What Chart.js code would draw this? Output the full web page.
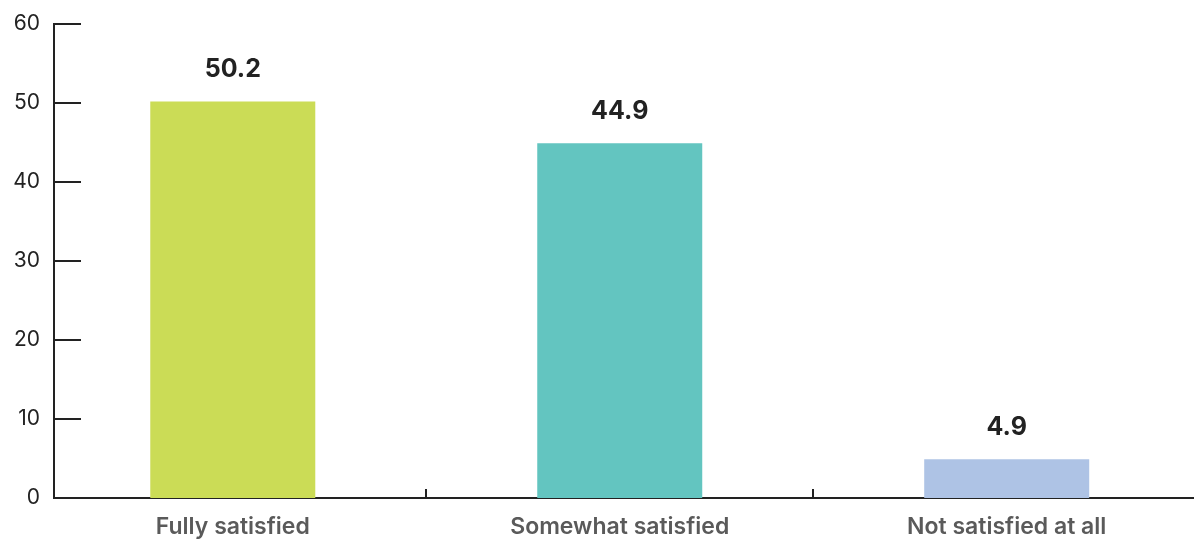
<!DOCTYPE html>
<html>
<head>
<meta charset="utf-8">
<script src="https://cdn.jsdelivr.net/npm/chart.js@4/dist/chart.umd.min.js"></script>
<style>
  html, body { margin: 0; padding: 0; background: #ffffff; }
  #wrap { width: 1194px; height: 541px; }
</style>
</head>
<body>
<div id="wrap"><canvas id="c" width="1194" height="541"></canvas></div>
<script>
// Satisfaction survey results (%)
const categories = ['Fully satisfied', 'Somewhat satisfied', 'Not satisfied at all'];
const values = [50.2, 44.9, 4.9];
const barColors = ['#cbdc56', '#63c5c0', '#aec3e5'];
const yTicks = [0, 10, 20, 30, 40, 50, 60];

const INK = '#222222';

// Short tick marks: inward on the value axis, upward between categories
const axisMarks = {
  id: 'axisMarks',
  afterDraw(chart) {
    const { ctx, chartArea, scales } = chart;
    ctx.save();
    ctx.strokeStyle = INK;
    ctx.lineWidth = 2;
    ctx.beginPath();
    scales.y.ticks.forEach(t => {
      const py = Math.round(scales.y.getPixelForValue(t.value));
      ctx.moveTo(chartArea.left, py);
      ctx.lineTo(chartArea.left + 27, py);
    });
    for (let i = 0; i < categories.length - 1; i++) {
      const px = Math.round(scales.x.getPixelForValue(i + 0.5));
      ctx.moveTo(px, chartArea.bottom);
      ctx.lineTo(px, chartArea.bottom - 9);
    }
    ctx.stroke();
    ctx.restore();
  }
};

// Value labels above each bar
const valueLabels = {
  id: 'valueLabels',
  afterDatasetsDraw(chart) {
    const { ctx } = chart;
    const meta = chart.getDatasetMeta(0);
    ctx.save();
    ctx.fillStyle = INK;
    ctx.font = '700 25px Inter, "Liberation Sans", sans-serif';
    ctx.textAlign = 'center';
    ctx.textBaseline = 'middle';
    meta.data.forEach((bar, i) => {
      ctx.fillText(values[i].toFixed(1), bar.x, bar.y - 32);
    });
    ctx.restore();
  }
};

new Chart(document.getElementById('c'), {
  type: 'bar',
  data: {
    datasets: [{
      data: values.map((v, i) => ({ x: i, y: v })),
      backgroundColor: barColors,
      borderWidth: 0,
      barPercentage: 0.4264,
      categoryPercentage: 1
    }]
  },
  options: {
    responsive: false,
    animation: false,
    layout: { padding: { top: 24, right: 0, left: 0, bottom: 0 } },
    plugins: { legend: { display: false }, tooltip: { enabled: false } },
    scales: {
      x: {
        type: 'linear',
        offset: false,
        min: -0.462,
        max: 2.484,
        grid: { display: false, drawTicks: false, offset: false },
        border: { display: true, color: INK, width: 2 },
        afterBuildTicks(scale) {
          scale.ticks = categories.map((_, i) => ({ value: i }));
        },
        ticks: {
          autoSkip: false,
          maxRotation: 0,
          padding: 15,
          color: '#5a5a5a',
          font: { family: 'Inter, "Liberation Sans", sans-serif', size: 23, weight: '600' },
          callback: (v) => categories[v]
        },
        afterFit(scale) {
          scale.height = 43;
          scale.paddingLeft = 0;
          scale.paddingRight = 0;
        }
      },
      y: {
        min: 0,
        max: 60,
        afterBuildTicks(scale) {
          scale.ticks = yTicks.map(v => ({ value: v }));
        },
        grid: { display: false, drawTicks: false },
        border: { display: true, color: INK, width: 2 },
        ticks: {
          padding: 14,
          color: INK,
          font: { family: 'Inter, "Liberation Sans", sans-serif', size: 21, weight: '400' }
        },
        afterFit(scale) {
          scale.width = 54;
          scale.paddingTop = 0;
          scale.paddingBottom = 0;
        }
      }
    }
  },
  plugins: [axisMarks, valueLabels]
});
</script>
</body>
</html>
